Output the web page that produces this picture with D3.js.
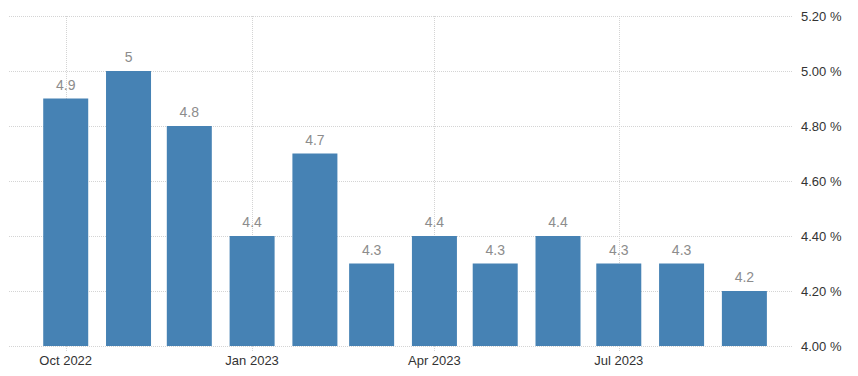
<!DOCTYPE html>
<html>
<head>
<meta charset="utf-8">
<script src="https://cdn.jsdelivr.net/npm/d3@7"></script>
<style>
  body { margin: 0; background: #fff; }
  svg { display: block; font-family: "Liberation Sans", Arial, sans-serif; }
</style>
</head>
<body>
<svg id="chart" width="858" height="376"></svg>
<script>
// monthly values, Oct 2022 .. Sep 2023
const months = ["2022-10", "2022-11", "2022-12", "2023-01", "2023-02", "2023-03",
                "2023-04", "2023-05", "2023-06", "2023-07", "2023-08", "2023-09"]
const values = [4.9, 5, 4.8, 4.4, 4.7, 4.3, 4.4, 4.3, 4.4, 4.3, 4.3, 4.2]
const yTicks = [4.0, 4.2, 4.4, 4.6, 4.8, 5.0, 5.2]
const xTicks = ["2022-10", "2023-01", "2023-04", "2023-07"]

const parse = d3.timeParse("%Y-%m")
const data = months.map((m, i) => ({date: parse(m), value: values[i]}))

const svg = d3.select("#chart")
const plotLeft = 9, plotRight = 793, plotTop = 16, plotBottom = 346

const x = d3.scaleTime()
    .domain([new Date(2022, 8, 3), new Date(2023, 8, 25)])
    .range([plotLeft, plotRight])

const y = d3.scaleLinear()
    .domain([4.0, 5.2])
    .range([plotBottom, plotTop])

// horizontal grid
svg.append("g")
    .selectAll("line")
    .data(yTicks)
    .join("line")
    .attr("x1", plotLeft)
    .attr("x2", plotRight)
    .attr("y1", d => Math.round(y(d)) + 0.5)
    .attr("y2", d => Math.round(y(d)) + 0.5)
    .attr("stroke", "#d4d4d4")
    .attr("stroke-dasharray", "1,1")

// vertical grid
svg.append("g")
    .selectAll("line")
    .data(xTicks.map(parse))
    .join("line")
    .attr("x1", d => Math.round(x(d)) + 0.5)
    .attr("x2", d => Math.round(x(d)) + 0.5)
    .attr("y1", plotTop)
    .attr("y2", plotBottom + 5)
    .attr("stroke", "#d4d4d4")
    .attr("stroke-dasharray", "1,1")

const bw = 45

svg.append("g")
    .selectAll("rect")
    .data(data)
    .join("rect")
    .attr("x", d => x(d.date) - bw / 2)
    .attr("y", d => y(d.value))
    .attr("width", bw)
    .attr("height", d => y(4.0) - y(d.value))
    .attr("fill", "#4682b4")

svg.append("g")
    .selectAll("text")
    .data(data)
    .join("text")
    .attr("x", d => x(d.date))
    .attr("y", d => y(d.value) - 9)
    .attr("text-anchor", "middle")
    .attr("font-size", 14)
    .attr("fill", "#8c8c8c")
    .text(d => d.value)

// y labels on right
svg.append("g")
    .selectAll("text")
    .data(yTicks)
    .join("text")
    .attr("x", 801)
    .attr("y", d => y(d) + 5)
    .attr("font-size", 13)
    .attr("fill", "#333")
    .text(d => d.toFixed(2) + " %")

// x labels
const fmt = d3.timeFormat("%b %Y")
svg.append("g")
    .selectAll("text")
    .data(xTicks.map(parse))
    .join("text")
    .attr("x", d => x(d))
    .attr("y", 365)
    .attr("text-anchor", "middle")
    .attr("font-size", 13)
    .attr("fill", "#333")
    .text(d => fmt(d))
</script>
</body>
</html>
